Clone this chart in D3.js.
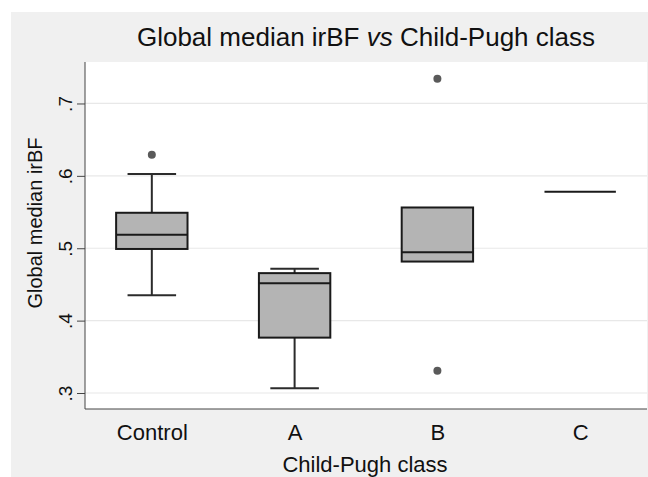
<!DOCTYPE html>
<html><head><meta charset="utf-8">
<script src="https://cdn.jsdelivr.net/npm/d3@7"></script>
<style>body{margin:0;background:#fff;}svg{display:block;font-family:"Liberation Sans",Arial,sans-serif;}</style>
</head><body>
<svg id="chart" width="648" height="477"></svg>
<script>
const categories = ["Control", "A", "B", "C"];
const q1 =        [0.499, 0.3765, 0.4816, 0.578];
const median =    [0.5185, 0.4517, 0.4946, 0.578];
const q3 =        [0.549, 0.4656, 0.5563, 0.578];
const whiskLow =  [0.435, 0.3065, 0.4816, 0.578];
const whiskHigh = [0.6025, 0.4715, 0.5563, 0.578];
const outliers = [
  {cat: "Control", value: 0.629},
  {cat: "B", value: 0.7343},
  {cat: "B", value: 0.3308}
];
const yTicks = [0.3, 0.4, 0.5, 0.6, 0.7];
const yTickLabels = [".3", ".4", ".5", ".6", ".7"];

const svg = d3.select("#chart");
const L = 85, R = 647, T = 62, B = 409;

svg.append("rect").attr("x", 11).attr("y", 12).attr("width", 637).attr("height", 465).attr("fill", "#f0f0f0");
svg.append("rect").attr("x", L).attr("y", T).attr("width", R - L).attr("height", B - T).attr("fill", "#ffffff");

const y = d3.scaleLinear().domain([0.2779, 0.7573]).range([B, T]);
const x = d3.scalePoint().domain(categories).range([L, R]).padding(0.468);
const step = x.step();
const boxW = step * 0.5, capW = step * 0.34;

// grid
svg.append("g").selectAll("line").data(yTicks).join("line")
  .attr("x1", L).attr("x2", R).attr("y1", d => y(d)).attr("y2", d => y(d))
  .attr("stroke", "#e8e8e8").attr("stroke-width", 1.2);

// y axis
const yAxis = d3.axisLeft(y).tickValues(yTicks).tickFormat((d, i) => yTickLabels[i]).tickSize(8).tickPadding(4);
const gy = svg.append("g").attr("transform", `translate(${L},0)`).call(yAxis);
gy.select(".domain").attr("stroke", "#444").attr("d", `M0,${T}V${B}`);
gy.selectAll(".tick line").attr("stroke", "#444");
gy.selectAll(".tick text").attr("font-size", 19).attr("fill", "#111")
  .attr("transform", "rotate(-90)").attr("x", 0).attr("y", -13).attr("dy", 0).attr("text-anchor", "middle");

// x axis
const xAxis = d3.axisBottom(x).tickSize(0).tickPadding(0);
const gx = svg.append("g").attr("transform", `translate(0,${B})`).call(xAxis);
gx.select(".domain").attr("stroke", "#444").attr("d", `M${L},0H${R}`);
gx.selectAll(".tick text").attr("font-size", 22).attr("fill", "#111").attr("y", 31).attr("dy", 0);

// boxes
const idx = categories.map((c, i) => i);
const g = svg.append("g");
idx.forEach(i => {
  const cx = x(categories[i]);
  if (whiskHigh[i] > q3[i]) {
    g.append("line").attr("x1", cx).attr("x2", cx).attr("y1", y(q3[i])).attr("y2", y(whiskHigh[i])).attr("stroke", "#2b2b2b").attr("stroke-width", 2);
    g.append("line").attr("x1", cx - capW / 2).attr("x2", cx + capW / 2).attr("y1", y(whiskHigh[i])).attr("y2", y(whiskHigh[i])).attr("stroke", "#2b2b2b").attr("stroke-width", 2);
  }
  if (whiskLow[i] < q1[i]) {
    g.append("line").attr("x1", cx).attr("x2", cx).attr("y1", y(q1[i])).attr("y2", y(whiskLow[i])).attr("stroke", "#2b2b2b").attr("stroke-width", 2);
    g.append("line").attr("x1", cx - capW / 2).attr("x2", cx + capW / 2).attr("y1", y(whiskLow[i])).attr("y2", y(whiskLow[i])).attr("stroke", "#2b2b2b").attr("stroke-width", 2);
  }
  if (q3[i] > q1[i]) {
    g.append("rect").attr("x", cx - boxW / 2).attr("width", boxW)
      .attr("y", y(q3[i])).attr("height", y(q1[i]) - y(q3[i]))
      .attr("fill", "#b4b4b4").attr("stroke", "#1a1a1a").attr("stroke-width", 2);
  }
  g.append("line").attr("x1", cx - boxW / 2).attr("x2", cx + boxW / 2).attr("y1", y(median[i])).attr("y2", y(median[i]))
    .attr("stroke", "#1a1a1a").attr("stroke-width", 2);
});

g.selectAll("circle").data(outliers).join("circle")
  .attr("cx", d => x(d.cat)).attr("cy", d => y(d.value)).attr("r", 4).attr("fill", "#5a5a5a");

// titles
const title = svg.append("text").attr("x", 366).attr("y", 46).attr("text-anchor", "middle").attr("font-size", 26).attr("fill", "#111");
title.append("tspan").text("Global median irBF ");
title.append("tspan").attr("font-style", "italic").text("vs");
title.append("tspan").text(" Child-Pugh class");

svg.append("text").attr("x", 365).attr("y", 472).attr("text-anchor", "middle").attr("font-size", 22).attr("fill", "#111").text("Child-Pugh class");
svg.append("text").attr("transform", `translate(42,${223}) rotate(-90)`).attr("text-anchor", "middle").attr("font-size", 20).attr("fill", "#111").text("Global median irBF");
</script>
</body></html>
